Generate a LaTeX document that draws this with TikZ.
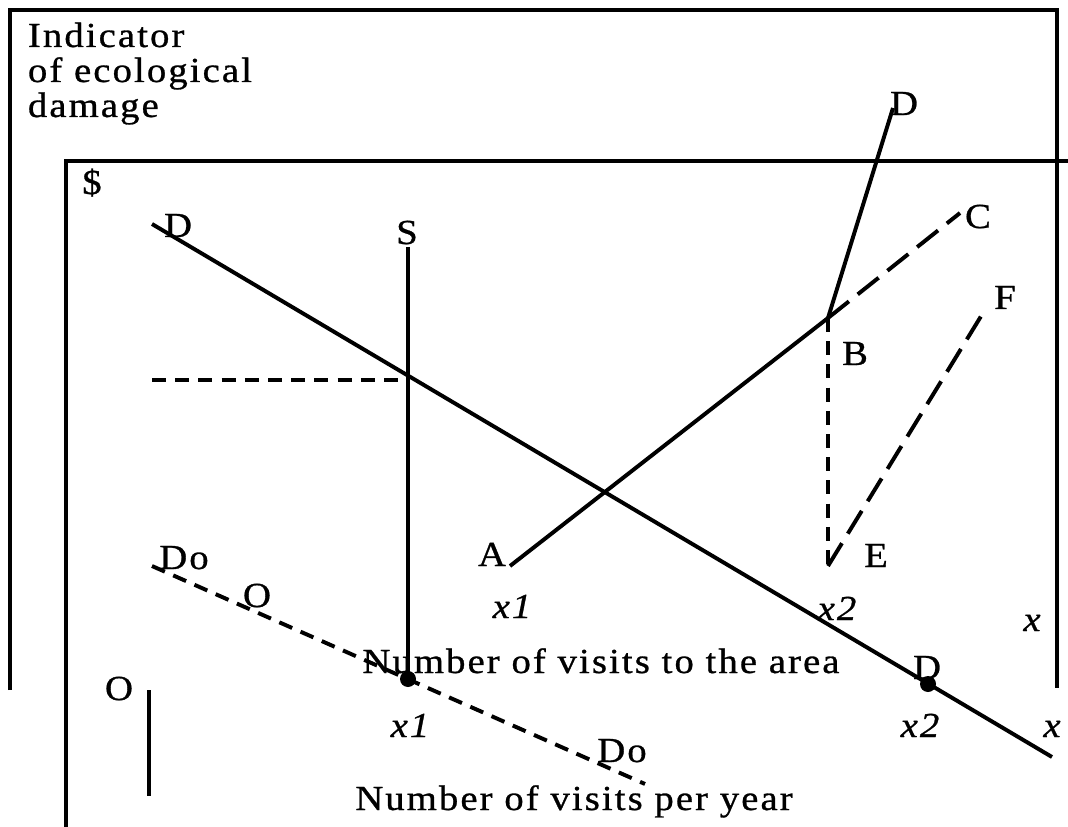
\documentclass[tikz,border=0pt]{standalone}
\usepackage{fontspec}
\setmainfont{Liberation Serif}[LetterSpace=6,FakeStretch=1.1,FakeBold=0.8]
\begin{document}
\begin{tikzpicture}[x=0.025cm,y=-0.025cm,line width=2.8pt,
  lbl/.style={font=\fontsize{25}{30}\selectfont,inner sep=0pt,anchor=base},
  ilbl/.style={lbl,font=\fontsize{25}{30}\selectfont\itshape},
  shortdash/.style={dash pattern=on 10pt off 6.5pt},
  longdash/.style={dash pattern=on 19pt off 8pt},
  dot/.style={circle,fill,draw=none,inner sep=0pt,minimum size=0.4cm}]
\useasboundingbox (0,0) rectangle (1068,827);
% frames
\coordinate (o1) at (10,690);
\coordinate (o2) at (10,10);
\coordinate (o3) at (1057,10);
\coordinate (o4) at (1057,688);
\draw (o1) -- (o2) -- (o3) -- (o4);
\coordinate (i1) at (66,827);
\coordinate (i2) at (66,161);
\coordinate (i3) at (1068,161);
\draw (i1) -- (i2) -- (i3);
\coordinate (a1) at (149,690);
\coordinate (a2) at (149,796);
\draw (a1) -- (a2);
% points
\coordinate (D1) at (152,224);
\coordinate (D2) at (1052,757);
\coordinate (S1) at (408,247);
\node[dot] (dot1) at (408,679) {};
\node[dot] (dot2) at (928,684) {};
\coordinate (H1) at (152,380);
\coordinate (H2) at (408,380);
\coordinate (A) at (510,566);
\coordinate (B) at (828,318);
\coordinate (Dt) at (893,108);
\coordinate (C) at (960,213);
\coordinate (E) at (828,566);
\coordinate (F) at (983,313);
\coordinate (Do1) at (152,566);
\coordinate (Do2) at (645,784);
% lines
\draw (D1) -- (D2);
\draw (S1) -- (dot1.center);
\draw[shortdash] (H1) -- (H2);
\draw (A) -- (B);
\draw (B) -- (Dt);
\draw[longdash] (B) -- (C);
\draw[shortdash] (B) -- (E);
\draw[longdash] (E) -- (F);
\draw[shortdash] (Do1) -- (Do2);
% texts
\node[lbl,anchor=base west] (t1) at (26,47) {Indicator};
\node[lbl,anchor=base west] (t2) at (26,82) {of ecological};
\node[lbl,anchor=base west] (t3) at (26,117) {damage};
\node[lbl] (ldollar) at (92,194) {\$};
\node[lbl] (lD1) at (178,237) {D};
\node[lbl] (lS) at (407,244) {S};
\node[lbl] (lDt) at (904,115) {D};
\node[lbl] (lC) at (978,228) {C};
\node[lbl] (lF) at (1005,309) {F};
\node[lbl] (lB) at (855,365) {B};
\node[lbl] (lE) at (876,567) {E};
\node[lbl] (lA) at (492,566) {A};
\node[ilbl] (lx1a) at (512,618) {x1};
\node[ilbl] (lx2a) at (837,620) {x2};
\node[ilbl] (lxa) at (1032,631) {x};
\node[lbl] (n1) at (601,673) {Number of visits to the area};
\node[lbl] (lD2) at (927,679) {D};
\node[ilbl] (lx1b) at (410,737) {x1};
\node[ilbl] (lx2b) at (920,737) {x2};
\node[ilbl] (lxb) at (1052,737) {x};
\node[lbl] (lO1) at (119,700) {O};
\node[lbl] (lO2) at (257,607) {O};
\node[lbl] (lDo1) at (184,569) {Do};
\node[lbl] (lDo2) at (622,762) {Do};
\node[lbl] (n2) at (574,810) {Number of visits per year};
\end{tikzpicture}
\end{document}
